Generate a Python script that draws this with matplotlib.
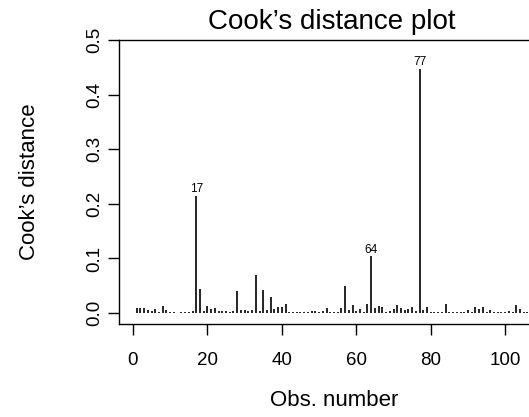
import numpy as np
import matplotlib
matplotlib.use("Agg")
import matplotlib.pyplot as plt

plt.rcParams['font.family'] = ['Liberation Sans', 'DejaVu Sans']

cooks = [
    0.010, 0.009, 0.009, 0.005, 0.003, 0.007, 0.002, 0.013, 0.006, 0.002,
    0.002, 0.001, 0.002, 0.002, 0.002, 0.003, 0.215, 0.045, 0.003, 0.013,
    0.007, 0.010, 0.004, 0.004, 0.004, 0.002, 0.004, 0.040, 0.005, 0.005,
    0.003, 0.005, 0.069, 0.004, 0.042, 0.006, 0.029, 0.007, 0.011, 0.011,
    0.016, 0.002, 0.002, 0.002, 0.002, 0.002, 0.002, 0.003, 0.004, 0.002,
    0.003, 0.010, 0.002, 0.002, 0.002, 0.010, 0.050, 0.006, 0.014, 0.003,
    0.007, 0.002, 0.017, 0.104, 0.009, 0.013, 0.011, 0.002, 0.004, 0.008,
    0.015, 0.009, 0.006, 0.007, 0.011, 0.004, 0.447, 0.006, 0.011, 0.002,
    0.002, 0.002, 0.002, 0.016, 0.002, 0.002, 0.002, 0.002, 0.002, 0.006,
    0.002, 0.012, 0.007, 0.011, 0.002, 0.006, 0.002, 0.002, 0.002, 0.002,
    0.003, 0.002, 0.015, 0.007, 0.002, 0.002,
]
obs = np.arange(1, len(cooks) + 1)
flagged = [17, 64, 77]

W, H = 529, 417
fig = plt.figure(figsize=(W / 100, H / 100), dpi=100)
# plot region runs past the right edge of the image, as in the original
ax = fig.add_axes([119 / W, 1 - 324 / H, (547 - 119) / W, (324 - 40) / H])

ax.vlines(obs, 0, cooks, color='black', linewidth=1.2)
for i in flagged:
    ax.text(i, cooks[i - 1] + 0.001, str(i), ha='center', va='bottom', fontsize=8.5)

ax.set_xlim(-3.76, 111.24)
ax.set_ylim(-0.02, 0.5)
ax.set_xticks([0, 20, 40, 60, 80, 100])
ax.set_yticks([0.0, 0.1, 0.2, 0.3, 0.4, 0.5])
ax.set_yticklabels(['0.0', '0.1', '0.2', '0.3', '0.4', '0.5'], rotation=90, va='center')
ax.tick_params(length=8, width=1, labelsize=13.5)
ax.tick_params(axis='x', pad=12)
ax.tick_params(axis='y', pad=3)

for s in ax.spines.values():
    s.set_linewidth(1)

# title and axis labels placed like R's margins
fig.text(332 / W, 1 - 22 / H, "Cook\u2019s distance plot", ha='center', va='center', fontsize=20)
fig.text(334 / W, 1 - 400 / H, "Obs. number", ha='center', va='center', fontsize=16)
fig.text(30 / W, 1 - 182 / H, "Cook\u2019s distance", ha='center', va='center',
         rotation=90, fontsize=16)

fig.savefig("out.png", dpi=100)
